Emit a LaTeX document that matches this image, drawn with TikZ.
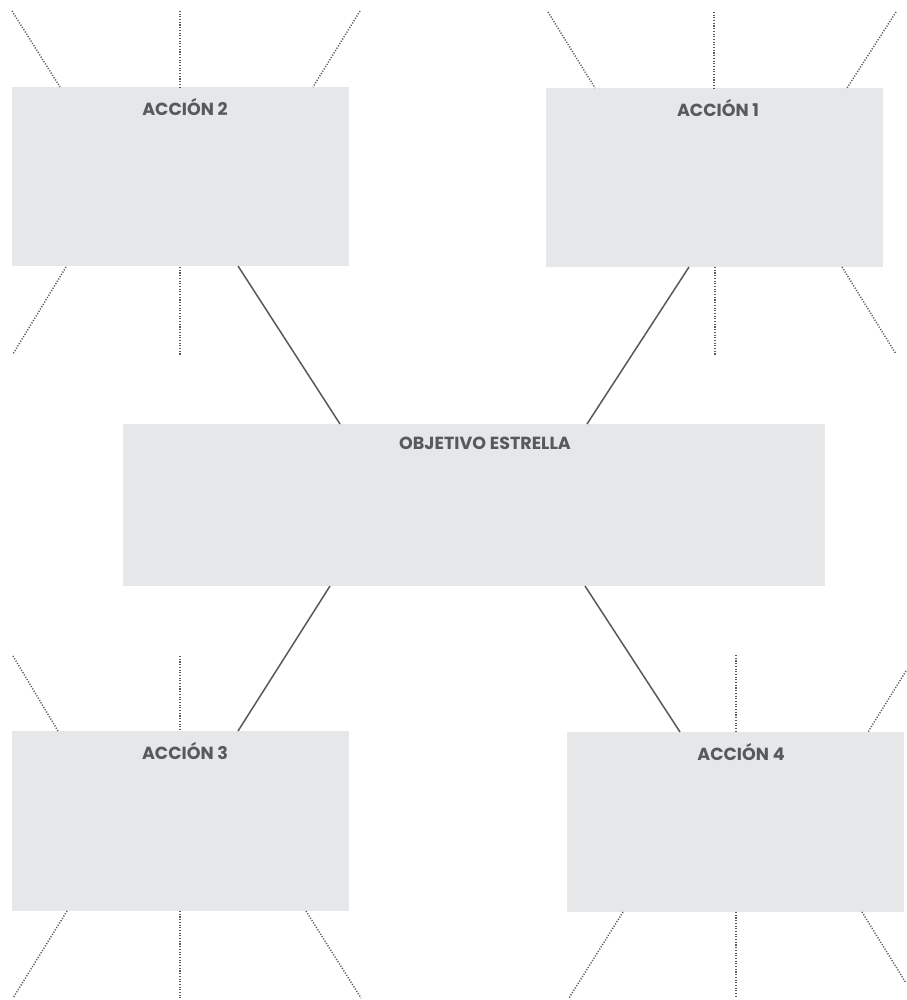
\documentclass[tikz,border=0pt]{standalone}
\usepackage{fontspec}
\setmainfont{Poppins}
\definecolor{boxfill}{HTML}{E6E7E8}
\definecolor{inkgray}{HTML}{58595B}
\begin{document}
\begin{tikzpicture}[x=1pt,y=-1pt,
  box/.style={fill=boxfill,draw=none,anchor=north west,inner sep=0pt},
  lbl/.style={text=inkgray,font=\bfseries\fontsize{17.5}{20}\selectfont,inner sep=0pt},
  link/.style={draw=inkgray,line width=1.5pt},
  ray/.style={draw=inkgray,line width=1.5pt,dash pattern=on 1.1pt off 1.6pt}]
\useasboundingbox[fill=white] (0,0) rectangle (906,1000);
% boxes
\node[box,minimum width=337pt,minimum height=179pt] (a2) at (12,87) {};
\node[box,minimum width=337pt,minimum height=179pt] (a1) at (546,88) {};
\node[box,minimum width=702pt,minimum height=162pt] (obj) at (123,424) {};
\node[box,minimum width=337pt,minimum height=180pt] (a3) at (12,731) {};
\node[box,minimum width=337pt,minimum height=180pt] (a4) at (567,732) {};
% labels
\node[lbl] (t2) at (185,107) {ACCIÓN 2};
\node[lbl] (t1) at (718,108) {ACCIÓN 1};
\node[lbl] (to) at (485,443) {OBJETIVO ESTRELLA};
\node[lbl] (t3) at (185,751) {ACCIÓN 3};
\node[lbl] (t4) at (741,752) {ACCIÓN 4};
% connector endpoints
\coordinate (c2a) at (238,266);
\coordinate (c2b) at (340,424);
\coordinate (c1a) at (689,267);
\coordinate (c1b) at (587,424);
\coordinate (c3a) at (330,586);
\coordinate (c3b) at (238,731);
\coordinate (c4a) at (585,586);
\coordinate (c4b) at (680,732);
\draw[link] (c2a) -- (c2b);
\draw[link] (c1a) -- (c1b);
\draw[link] (c3a) -- (c3b);
\draw[link] (c4a) -- (c4b);
% rays of ACCION 2
\draw[ray] (12,11) -- (60,87);
\draw[ray] (180,11) -- (180,87);
\draw[ray] (360,11) -- (313,87);
\draw[ray] (66,267) -- (13,354);
\draw[ray] (180,267) -- (180,355);
% rays of ACCION 1
\draw[ray] (548,12) -- (595,88);
\draw[ray] (714,12) -- (714,88);
\draw[ray] (896,12) -- (847,88);
\draw[ray] (715,267) -- (715,356);
\draw[ray] (842,267) -- (896,354);
% rays of ACCION 3
\draw[ray] (13,656) -- (58,731);
\draw[ray] (180,656) -- (180,731);
\draw[ray] (67,911) -- (13,998);
\draw[ray] (180,911) -- (180,998);
\draw[ray] (306,911) -- (361,998);
% rays of ACCION 4
\draw[ray] (736,655) -- (736,732);
\draw[ray] (906,671) -- (868,732);
\draw[ray] (623,912) -- (569,998);
\draw[ray] (736,912) -- (736,998);
\draw[ray] (862,912) -- (906,983);
\end{tikzpicture}
\end{document}
